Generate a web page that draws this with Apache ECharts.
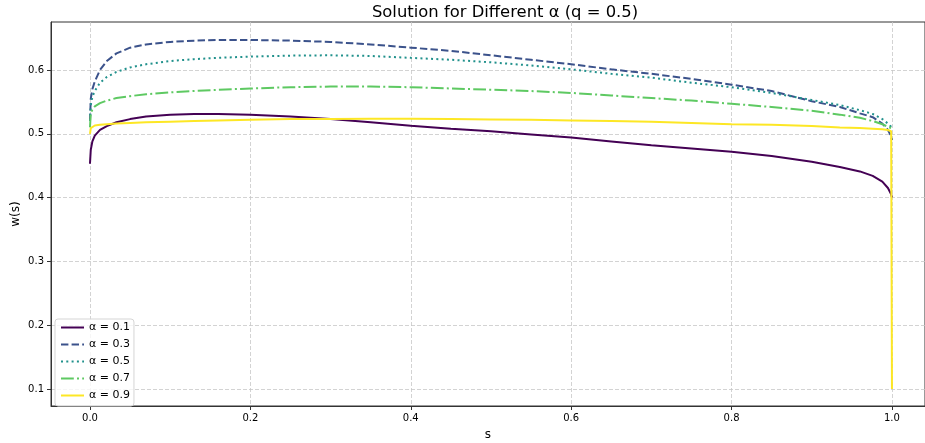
<!DOCTYPE html>
<html>
<head>
<meta charset="utf-8">
<script src="https://cdn.jsdelivr.net/npm/echarts@6/dist/echarts.min.js"></script>
<style>
  html, body { margin: 0; padding: 0; background: #fff; }
  #chart { width: 925px; height: 443px; }
</style>
</head>
<body>
<div id="chart"></div>
<script>
// s grid (denser near both ends where the curves bend)
const sValues = [0, 0.001, 0.003, 0.006, 0.0125, 0.021, 0.033, 0.05, 0.07, 0.1, 0.13, 0.16, 0.2, 0.25, 0.3, 0.35, 0.4, 0.45, 0.5, 0.55, 0.6, 0.65, 0.7, 0.75, 0.8, 0.85, 0.9, 0.935, 0.96, 0.976, 0.988, 0.995, 0.999, 1.0];

const wAlpha01 = [0.453, 0.475, 0.488, 0.497, 0.506, 0.512, 0.518, 0.523, 0.527, 0.530, 0.531, 0.5308, 0.530, 0.527, 0.523, 0.518, 0.5125, 0.508, 0.504, 0.499, 0.494, 0.488, 0.482, 0.477, 0.472, 0.465, 0.456, 0.448, 0.441, 0.434, 0.425, 0.415, 0.405, 0.400];
const wAlpha03 = [0.520, 0.555, 0.570, 0.582, 0.600, 0.614, 0.626, 0.635, 0.640, 0.644, 0.646, 0.647, 0.647, 0.646, 0.644, 0.640, 0.635, 0.630, 0.623, 0.616, 0.609, 0.601, 0.594, 0.586, 0.577, 0.567, 0.551, 0.542, 0.532, 0.526, 0.516, 0.506, 0.496, 0.490];
const wAlpha05 = [0.520, 0.545, 0.558, 0.567, 0.580, 0.589, 0.597, 0.604, 0.609, 0.614, 0.617, 0.619, 0.621, 0.6225, 0.623, 0.622, 0.619, 0.616, 0.612, 0.607, 0.601, 0.594, 0.588, 0.580, 0.573, 0.564, 0.553, 0.545, 0.537, 0.531, 0.523, 0.516, 0.511, 0.509];
const wAlpha07 = [0.510, 0.532, 0.538, 0.543, 0.548, 0.552, 0.556, 0.559, 0.562, 0.565, 0.567, 0.569, 0.571, 0.573, 0.574, 0.574, 0.573, 0.571, 0.569, 0.567, 0.564, 0.560, 0.556, 0.552, 0.547, 0.542, 0.536, 0.530, 0.525, 0.520, 0.515, 0.511, 0.509, 0.508];
const wAlpha09 = [0.500, 0.509, 0.512, 0.513, 0.514, 0.515, 0.516, 0.517, 0.518, 0.519, 0.520, 0.521, 0.522, 0.523, 0.523, 0.5235, 0.5235, 0.523, 0.5225, 0.522, 0.521, 0.520, 0.519, 0.517, 0.515, 0.514, 0.512, 0.510, 0.509, 0.508, 0.507, 0.506, 0.504, 0.100];

const seriesNames = ["α = 0.1", "α = 0.3", "α = 0.5", "α = 0.7", "α = 0.9"];
const xTicks = [0, 0.2, 0.4, 0.6, 0.8, 1.0];
const yTicks = [0.1, 0.2, 0.3, 0.4, 0.5, 0.6];

const FONT = "DejaVu Sans";
const colors = ["#440154", "#3b528b", "#21918c", "#5ec962", "#fde725"];
const lineTypes = ["solid", [7.4, 3.2], [2, 3.3], [12.8, 3.2, 2, 3.2], "solid"];
const allW = [wAlpha01, wAlpha03, wAlpha05, wAlpha07, wAlpha09];

const chart = echarts.init(document.getElementById("chart"));

const series = seriesNames.map((name, i) => ({
  name: name,
  type: "line",
  data: sValues.map((s, j) => [s, allW[i][j]]),
  showSymbol: false,
  symbol: "none",
  lineStyle: { color: colors[i], width: 2, type: lineTypes[i], cap: "butt" },
  itemStyle: { color: colors[i] },
}));

const option = {
  animation: false,
  textStyle: { fontFamily: FONT },
  grid: {
    left: 51,
    top: 22,
    width: 874,
    height: 384,
    show: true,
    borderColor: "#333",
    borderWidth: 1,
    containLabel: false,
    outerBoundsMode: "none",
  },
  graphic: [
    {
      type: "text",
      x: 505,
      y: 5,
      style: {
        text: "Solution for Different α (q = 0.5)",
        fontFamily: FONT,
        fontSize: 16.4,
        fill: "#000",
        textAlign: "center",
      },
    },
    // y axis title
    {
      type: "text",
      x: 15.5,
      y: 214,
      rotation: Math.PI / 2,
      style: {
        text: "w(s)",
        fontFamily: FONT,
        fontSize: 12,
        fill: "#000",
        textAlign: "center",
        textVerticalAlign: "middle",
      },
    },
  ],
  legend: {
    orient: "vertical",
    left: 55,
    top: 319,
    itemWidth: 23,
    itemHeight: 10,
    itemGap: 6,
    padding: [3, 4, 5, 5],
    backgroundColor: "rgba(255,255,255,0.8)",
    borderColor: "#d5d5d5",
    borderWidth: 1,
    borderRadius: 3,
    itemStyle: { opacity: 0 },
    textStyle: { fontFamily: FONT, fontSize: 11, color: "#000" },
    data: seriesNames,
  },
  xAxis: {
    type: "value",
    min: -0.0486,
    max: 1.0412,
    name: "s",
    nameLocation: "middle",
    nameGap: 23,
    nameTextStyle: { fontFamily: FONT, fontSize: 12, color: "#000" },
    axisLine: { show: true, onZero: false, lineStyle: { color: "#333", width: 1 } },
    axisTick: { show: true, inside: false, length: 4, customValues: xTicks, lineStyle: { color: "#333" } },
    axisLabel: {
      customValues: xTicks,
      margin: 7,
      fontFamily: FONT,
      fontSize: 10,
      color: "#000",
      formatter: (v) => v.toFixed(1),
    },
    splitLine: { show: true, lineStyle: { color: "#c8c8c8", type: [4, 2], width: 0.8 } },
  },
  yAxis: {
    type: "value",
    min: 0.0733,
    max: 0.6752,
    axisLine: { show: true, onZero: false, lineStyle: { color: "#333", width: 1 } },
    axisTick: { show: true, inside: false, length: 4, customValues: yTicks, lineStyle: { color: "#333" } },
    axisLabel: {
      customValues: yTicks,
      margin: 7,
      fontFamily: FONT,
      fontSize: 10,
      color: "#000",
      formatter: (v) => v.toFixed(1),
    },
    splitLine: { show: true, lineStyle: { color: "#c8c8c8", type: [4, 2], width: 0.8 } },
  },
  series: series,
};

chart.setOption(option, true);
</script>
</body>
</html>
